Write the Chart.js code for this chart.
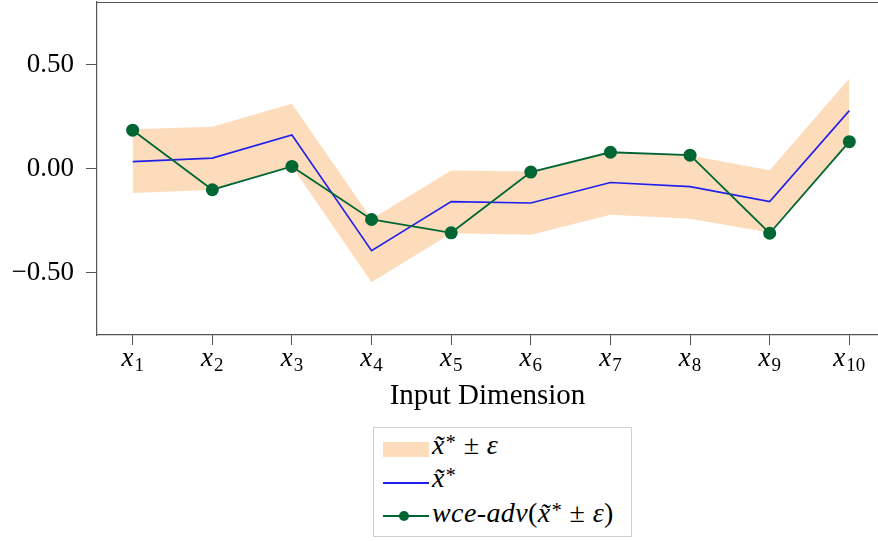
<!DOCTYPE html>
<html lang="en">

<head>
    <meta charset="UTF-8">
    <title>Input Dimension</title>
    <script src="https://cdn.jsdelivr.net/npm/chart.js"></script>
    <style>
        body { margin: 0; background: #fff; }
        #wrap { position: relative; width: 878px; height: 541px; }
        #legend {
            position: absolute; left: 373px; top: 427px; width: 259px; height: 110px;
            border: 1px solid #cfcfcf; box-sizing: border-box;
        }
        .sw { position: absolute; }
        .lt {
            position: absolute; left: 58px; white-space: nowrap; letter-spacing: 0.4px;
            font: 28px "Liberation Serif", "DejaVu Serif", serif; line-height: 28px; color: #000;
        }
        .sup { font-size: 20px; position: relative; top: -5px; margin-left: 1px; }
    </style>
</head>

<body>
    <div id="wrap">
        <canvas id="chart" width="878" height="420"></canvas>
        <div id="legend">
            <div class="sw" style="left:9px;top:14px;width:46px;height:15px;background:#fddcbc"></div>
            <div class="lt" style="top:3px"><i>x&#771;</i><span class="sup">*</span> &plusmn; <i>&epsilon;</i></div>

            <div class="sw" style="left:9px;top:54px;width:46px;height:2px;background:#2020ee"></div>
            <div class="lt" style="top:36px"><i>x&#771;</i><span class="sup">*</span></div>

            <div class="sw" style="left:9px;top:87px;width:46px;height:2px;background:#006633"></div>
            <div class="sw" style="left:25px;top:83px;width:10px;height:10px;border-radius:50%;background:#006633"></div>
            <div class="lt" style="top:71px"><i>wce-adv</i>(<i>x&#771;</i><span class="sup">*</span> &plusmn; <i>&epsilon;</i>)</div>
        </div>
    </div>

    <script>
        // input dimensions x1..x10
        const dims = [1, 2, 3, 4, 5, 6, 7, 8, 9, 10];
        // x~* (blue line)
        const center = [0.033, 0.050, 0.161, -0.395, -0.159, -0.166, -0.067, -0.087, -0.159, 0.278];
        // x~* +/- eps band
        const upper = [0.188, 0.201, 0.311, -0.243, -0.010, -0.014, 0.082, 0.063, -0.008, 0.432];
        const lower = [-0.118, -0.103, 0.011, -0.547, -0.311, -0.318, -0.222, -0.241, -0.308, 0.126];
        // wce-adv (green markers)
        const adv = [0.184, -0.102, 0.010, -0.245, -0.309, -0.017, 0.078, 0.064, -0.311, 0.129];
        const yTicks = [-0.5, 0, 0.5];

        const serif = '"Liberation Serif", "DejaVu Serif", serif';
        const axisColor = '#555';
        const pts = arr => arr.map((v, i) => ({ x: dims[i], y: v }));

        // subscripted x labels + top frame line
        const extras = {
            id: 'extras',
            afterDraw(chart) {
                const ctx = chart.ctx;
                const xs = chart.scales.x;
                const area = chart.chartArea;
                ctx.save();
                ctx.strokeStyle = axisColor;
                ctx.lineWidth = 1.2;
                ctx.beginPath();
                ctx.moveTo(area.left, area.top + 0.5);
                ctx.lineTo(area.right, area.top + 0.5);
                ctx.stroke();

                ctx.fillStyle = '#000';
                ctx.textBaseline = 'alphabetic';
                ctx.textAlign = 'left';
                dims.forEach(d => {
                    const px = xs.getPixelForValue(d);
                    ctx.font = 'italic 27px ' + serif;
                    const w1 = ctx.measureText('x').width;
                    ctx.font = '19px ' + serif;
                    const w2 = ctx.measureText(String(d)).width;
                    const x0 = px - (w1 + 1 + w2) / 2;
                    ctx.font = 'italic 27px ' + serif;
                    ctx.fillText('x', x0, 366);
                    ctx.font = '19px ' + serif;
                    ctx.fillText(String(d), x0 + w1 + 1, 371);
                });
                ctx.restore();
            }
        };

        new Chart(document.getElementById('chart'), {
            type: 'line',
            data: {
                datasets: [
                    {
                        label: 'wce-adv',
                        data: pts(adv),
                        borderColor: '#006633',
                        borderWidth: 1.8,
                        pointRadius: 6.5,
                        pointBackgroundColor: '#006633',
                        pointBorderWidth: 0,
                        tension: 0,
                        fill: false
                    },
                    {
                        label: 'center',
                        data: pts(center),
                        borderColor: '#2020ee',
                        borderWidth: 1.6,
                        pointRadius: 0,
                        tension: 0,
                        fill: false
                    },
                    {
                        label: 'upper',
                        data: pts(upper),
                        borderWidth: 0,
                        borderColor: 'rgba(0,0,0,0)',
                        backgroundColor: '#fddcbc',
                        pointRadius: 0,
                        tension: 0,
                        fill: '+1'
                    },
                    {
                        label: 'lower',
                        data: pts(lower),
                        borderWidth: 0,
                        borderColor: 'rgba(0,0,0,0)',
                        pointRadius: 0,
                        tension: 0,
                        fill: false
                    }
                ]
            },
            options: {
                responsive: false,
                animation: false,
                devicePixelRatio: 1,
                layout: { autoPadding: false, padding: { top: 2, left: 0, right: 0, bottom: 0 } },
                plugins: {
                    legend: { display: false },
                    tooltip: { enabled: false }
                },
                scales: {
                    x: {
                        type: 'linear',
                        min: 0.552,
                        max: 10.36,
                        ticks: { stepSize: 1, includeBounds: false, display: false },
                        grid: { drawOnChartArea: false, drawTicks: true, tickLength: 10, color: axisColor, lineWidth: 1 },
                        border: { display: true, color: axisColor, width: 1.2 },
                        title: {
                            display: true,
                            text: 'Input Dimension',
                            color: '#000',
                            font: { family: serif, size: 29 },
                            padding: { top: 0, bottom: 6 }
                        },
                        afterFit: s => {
                            s.height = 85;
                            s.paddingLeft = 0;
                            s.paddingRight = 0;
                        }
                    },
                    y: {
                        min: -0.8,
                        max: 0.8,
                        afterBuildTicks: s => { s.ticks = yTicks.map(v => ({ value: v })); },
                        ticks: {
                            color: '#000',
                            padding: 12,
                            font: { family: serif, size: 27 },
                            callback: v => (v < 0 ? '\u2212' : '') + Math.abs(v).toFixed(2)
                        },
                        grid: { drawOnChartArea: false, drawTicks: true, tickLength: 11, color: axisColor, lineWidth: 1 },
                        border: { display: true, color: axisColor, width: 1.2 },
                        afterFit: s => {
                            s.width = 97;
                            s.paddingTop = 0;
                            s.paddingBottom = 0;
                        }
                    }
                }
            },
            plugins: [extras]
        });
    </script>
</body>

</html>
